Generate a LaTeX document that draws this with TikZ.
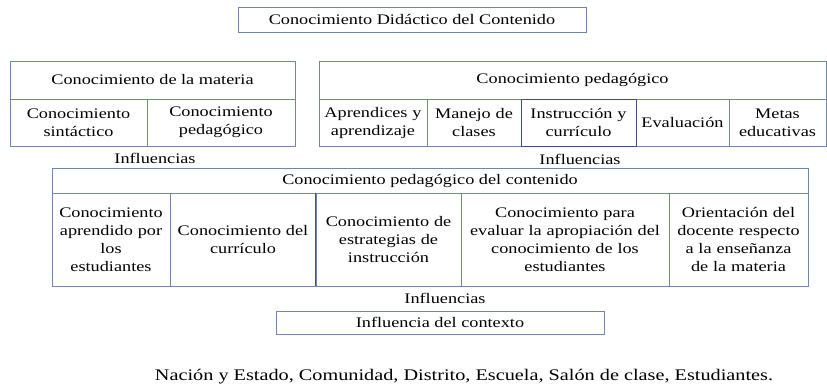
\documentclass[tikz,border=0pt]{standalone}
\usepackage{fontspec}
\setmainfont{Liberation Serif}[FakeStretch=1.25]
\definecolor{edge}{RGB}{110,135,170}
\definecolor{darkedge}{RGB}{60,80,130}
\begin{document}
\begin{tikzpicture}[x=1pt,y=-1pt,
  cell/.style={draw=edge, line width=0.9pt, inner sep=0pt, align=center, font=\rmfamily\fontsize{14.6}{18}\selectfont},
  lbl/.style={inner sep=0pt, font=\rmfamily\fontsize{14.6}{18}\selectfont}]
\useasboundingbox (0,0) rectangle (827,385);
% top
\node[cell,minimum width=348,minimum height=25] (top) at (412,19.5) {Conocimiento Didáctico del Contenido};
% left group
\node[cell,minimum width=285,minimum height=38] (lh) at (152.5,80) {Conocimiento de la materia};
\node[cell,minimum width=137,minimum height=47,text width=135] (l1) at (78.5,122.5) {Conocimiento\\sintáctico};
\node[cell,minimum width=148,minimum height=47,text width=146] (l2) at (221,122.5) {Conocimiento\\pedagógico};
% right group
\node[cell,minimum width=507,minimum height=38] (rh) at (572.5,80) {Conocimiento pedagógico};
\node[cell,minimum width=108,minimum height=47,text width=107] (r1) at (373,122.5) {Aprendices y\\aprendizaje};
\node[cell,minimum width=94,minimum height=47,text width=93] (r2) at (474,122.5) {Manejo de\\clases};
\node[cell,minimum width=93,minimum height=47,text width=92] (r4) at (682.5,122.5) {Evaluación};
\node[cell,minimum width=97,minimum height=47,text width=96] (r5) at (777.5,122.5) {Metas\\educativas};
\node[cell,draw=darkedge,minimum width=115,minimum height=47,text width=114] (r3) at (578.5,122.5) {Instrucción y\\currículo};
% influences
\node[lbl] (inf1) at (155,158) {Influencias};
\node[lbl] (inf2) at (580,159) {Influencias};
% middle group
\node[cell,minimum width=756,minimum height=25] (mh) at (430,180.5) {Conocimiento pedagógico del contenido};
\node[cell,minimum width=118,minimum height=93,text width=117] (m1) at (111,239.5) {Conocimiento\\aprendido por\\los\\estudiantes};
\node[cell,minimum width=146,minimum height=93,text width=144] (m2) at (243,239.5) {Conocimiento del\\currículo};
\node[cell,minimum width=145,minimum height=93,text width=143] (m3) at (388.5,239.5) {Conocimiento de\\estrategias de\\instrucción};
\node[cell,minimum width=208,minimum height=93,text width=207] (m4) at (565,239.5) {Conocimiento para\\evaluar la apropiación del\\conocimiento de los\\estudiantes};
\node[cell,minimum width=139,minimum height=93,text width=138] (m5) at (738.5,239.5) {Orientación del\\docente respecto\\a la enseñanza\\de la materia};
\draw[darkedge,line width=0.9pt] (m3.north west) -- (m3.south west);
\node[lbl] (inf3) at (445,298) {Influencias};
\node[cell,minimum width=328,minimum height=23] (ctx) at (440,322.5) {Influencia del contexto};
\node[lbl,font=\rmfamily\fontsize{16.2}{19}\selectfont] (bot) at (464,377) {Nación y Estado, Comunidad, Distrito, Escuela, Salón de clase, Estudiantes.};
\end{tikzpicture}
\end{document}
